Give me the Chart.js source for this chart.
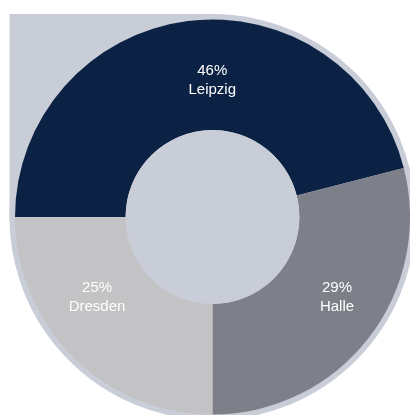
<!DOCTYPE html>
<html>
<head>
<meta charset="utf-8">
<script src="https://cdn.jsdelivr.net/npm/chart.js@4"></script>
<style>
  html, body { margin: 0; padding: 0; background: #ffffff; overflow: hidden; }
  #wrap { width: 410px; height: 415px; }
</style>
</head>
<body>
<div id="wrap"><canvas id="cityChart" width="410" height="415"></canvas></div>
<script>
  // values
  const cities = ['Leipzig', 'Halle', 'Dresden'];
  const shares = [46, 29, 25];
  const sliceColors = ['#0c2244', '#7d7f89', '#c3c3c5'];

  const shapeColor = '#c9cdd8';

  // where each label sits: angle clockwise from 12 o'clock, and radius as fraction of outer radius
  const labelSpots = [
    { angle: -0.1, radius: 0.694 },
    { angle: 122.7, radius: 0.749 },
    { angle: 235.3, radius: 0.711 }
  ];

  // light backdrop: ring + square top-left corner + the hole
  const backdrop = {
    id: 'backdrop',
    beforeDatasetsDraw(chart) {
      const arc = chart.getDatasetMeta(0).data[0];
      if (!arc) return;
      const { x, y, outerRadius, innerRadius } = arc.getProps(['x', 'y', 'outerRadius', 'innerRadius'], true);
      const r = outerRadius + 5.5;
      const ctx = chart.ctx;
      ctx.save();
      ctx.fillStyle = shapeColor;
      ctx.beginPath();
      ctx.arc(x, y, r, 0, Math.PI * 2);
      ctx.fill();
      ctx.fillRect(x - r, y - r, r, r);
      ctx.restore();
    },
    afterDatasetsDraw(chart) {
      const arc = chart.getDatasetMeta(0).data[0];
      if (!arc) return;
      const { x, y, innerRadius } = arc.getProps(['x', 'y', 'innerRadius'], true);
      const ctx = chart.ctx;
      ctx.save();
      ctx.fillStyle = shapeColor;
      ctx.beginPath();
      ctx.arc(x, y, innerRadius, 0, Math.PI * 2);
      ctx.fill();
      ctx.restore();
    }
  };

  const sliceLabels = {
    id: 'sliceLabels',
    afterDatasetsDraw(chart) {
      const meta = chart.getDatasetMeta(0);
      const total = shares.reduce((a, b) => a + b, 0);
      const ctx = chart.ctx;
      ctx.save();
      ctx.fillStyle = '#ffffff';
      ctx.font = '15px "Liberation Sans", Arial, sans-serif';
      ctx.textAlign = 'center';
      ctx.textBaseline = 'middle';
      meta.data.forEach((arc, i) => {
        const { x, y, outerRadius } = arc.getProps(['x', 'y', 'outerRadius'], true);
        const a = labelSpots[i].angle * Math.PI / 180;
        const rr = outerRadius * labelSpots[i].radius;
        const lx = x + rr * Math.sin(a);
        const ly = y - rr * Math.cos(a);
        const pct = Math.round(shares[i] / total * 100) + '%';
        ctx.fillText(pct, lx, ly - 9);
        ctx.fillText(cities[i], lx, ly + 10);
      });
      ctx.restore();
    }
  };

  document.addEventListener('DOMContentLoaded', function() {
    const ctx = document.getElementById('cityChart').getContext('2d');
    new Chart(ctx, {
      type: 'doughnut',
      data: {
        labels: cities,
        datasets: [{
          data: shares,
          backgroundColor: sliceColors,
          borderWidth: 0
        }]
      },
      options: {
        responsive: false,
        animation: false,
        rotation: -90,
        cutout: '44%',
        layout: { padding: { left: 15, right: 0, top: 19, bottom: 0 } },
        plugins: {
          legend: { display: false },
          tooltip: { enabled: false }
        }
      },
      plugins: [backdrop, sliceLabels]
    });
  });
</script>
</body>
</html>
